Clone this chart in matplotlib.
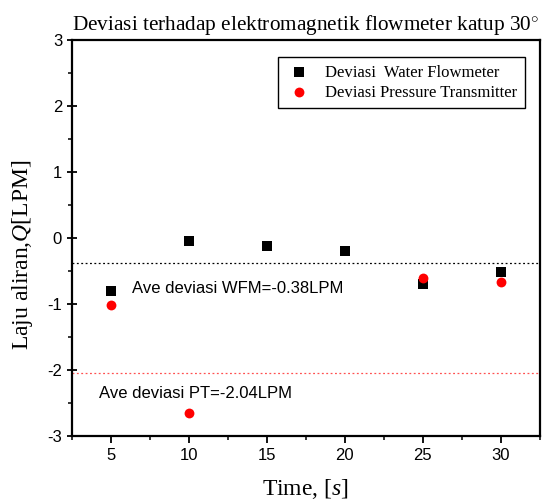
import numpy as np
import matplotlib
matplotlib.use("Agg")
import matplotlib.pyplot as plt
from matplotlib.ticker import MultipleLocator

plt.rcParams['mathtext.fontset'] = 'custom'
plt.rcParams['mathtext.rm'] = 'Liberation Serif'
plt.rcParams['mathtext.it'] = 'Liberation Serif:italic'
plt.rcParams['axes.unicode_minus'] = False

# data
time_wfm = [5, 10, 15, 20, 25, 30]
dev_wfm = [-0.81, -0.04, -0.12, -0.20, -0.70, -0.51]
time_pt = [5, 10, 25, 30]
dev_pt = [-1.02, -2.65, -0.60, -0.66]
ave_wfm = -0.38
ave_pt = -2.04

fig = plt.figure(figsize=(5.48, 5.0), dpi=100)
ax = fig.add_axes([0.131, 0.128, 0.854, 0.792])

ax.scatter(time_wfm, dev_wfm, marker='s', s=45, color='black', lw=0,
           label='Deviasi  Water Flowmeter', zorder=3)
ax.scatter(time_pt, dev_pt, marker='o', s=50, color='red', lw=0,
           label='Deviasi Pressure Transmitter', zorder=3)

ax.axhline(ave_wfm, color='black', ls=(0, (1.5, 2)), lw=0.9)
ax.axhline(ave_pt, color='#ff5050', ls=(0, (1.5, 2)), lw=0.9)

ax.text(6.38, -0.76, 'Ave deviasi WFM=%.2fLPM' % ave_wfm, family='Liberation Sans',
        fontsize=12, va='center', ha='left')
ax.text(4.23, -2.35, 'Ave deviasi PT=%.2fLPM' % ave_pt, family='Liberation Sans',
        fontsize=12, va='center', ha='left')

ax.set_xlim(2.5, 32.5)
ax.set_ylim(-3, 3)
ax.xaxis.set_major_locator(MultipleLocator(5))
ax.xaxis.set_minor_locator(MultipleLocator(2.5))
ax.yaxis.set_major_locator(MultipleLocator(1))
ax.yaxis.set_minor_locator(MultipleLocator(0.5))
ax.tick_params(axis='x', which='major', direction='out', length=5, width=1.3, labelsize=12)
ax.tick_params(axis='x', which='minor', direction='out', length=3, width=1.1)
ax.tick_params(axis='y', which='major', direction='inout', length=7, width=1.3, labelsize=12)
ax.tick_params(axis='y', which='minor', direction='out', length=3, width=1.1)
for lab in ax.get_xticklabels() + ax.get_yticklabels():
    lab.set_family('Liberation Sans')
for sp in ax.spines.values():
    sp.set_linewidth(1.6)

ax.set_xlabel('Time, [$\\mathit{s}$]', family='Liberation Serif', fontsize=17, labelpad=10)
ax.set_ylabel('Laju aliran,$\\mathit{Q}$[LPM]', family='Liberation Serif', fontsize=17)
ax.yaxis.set_label_coords(-0.079, 0.457)
ax.set_title('Deviasi terhadap elektromagnetik flowmeter katup 30$^{\\circ}$',
             family='Liberation Serif', fontsize=15.3, pad=7)

leg = ax.legend(loc='upper right', bbox_to_anchor=(0.968, 0.957), borderaxespad=0,
                prop={'family': 'Liberation Serif', 'size': 12},
                fancybox=False, edgecolor='black', framealpha=1, handletextpad=0.8,
                borderpad=0.45, labelspacing=0.25, handlelength=1.6)
leg.get_frame().set_linewidth(1.0)

plt.savefig("out.png")
plt.close()
